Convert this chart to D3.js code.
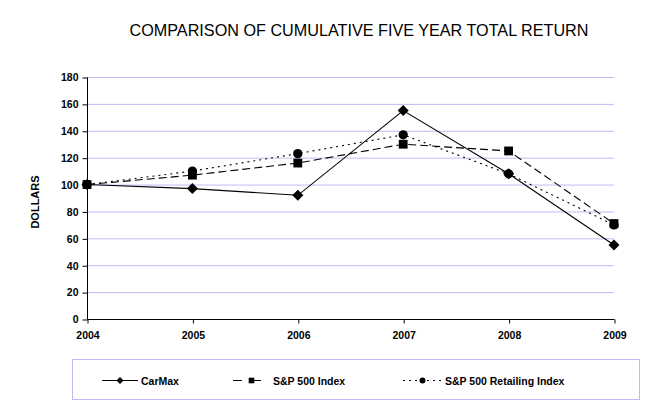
<!DOCTYPE html>
<html><head><meta charset="utf-8">
<script src="https://cdn.jsdelivr.net/npm/d3@7"></script>
<style>body{margin:0;background:#fff}svg{display:block}text{font-family:"Liberation Sans",Arial,sans-serif}</style>
</head><body>
<svg id="c" width="651" height="410"></svg>
<script>
const years = ["2004","2005","2006","2007","2008","2009"];
const carmax = [100, 97, 92, 155, 108, 55];
const sp500 = [100, 107, 116, 130, 125, 71];
const retailing = [100, 110, 123, 137, 108, 70];
const yTicks = [0,20,40,60,80,100,120,140,160,180];
const seriesNames = ["CarMax","S&P 500 Index","S&P 500 Retailing Index"];

const svg = d3.select("#c");
const x = d3.scalePoint().domain(years).range([87, 614]);
const y = d3.scaleLinear().domain([0,180]).range([319, 77]);

svg.append("text").attr("x",359).attr("y",36).attr("text-anchor","middle")
  .attr("font-size",16.2).text("COMPARISON OF CUMULATIVE FIVE YEAR TOTAL RETURN");

// gridlines
svg.append("g").selectAll("line").data(yTicks.filter(d=>d>0)).join("line")
  .attr("x1",87).attr("x2",614).attr("y1",d=>y(d)+0.5).attr("y2",d=>y(d)+0.5)
  .attr("stroke","#bcbcf4").attr("stroke-width",1);

// y axis
const ya = svg.append("g").attr("transform","translate(87.5,0.5)")
  .call(d3.axisLeft(y).tickValues(yTicks).tickSize(5).tickPadding(4));
ya.select(".domain").attr("d",`M0,${y(180)}V${y(0)}`);
ya.selectAll("text").attr("font-size",10.5).attr("font-weight","bold").attr("fill","#000").attr("font-family","Liberation Sans, Arial");

// x axis
const xa = svg.append("g").attr("transform",`translate(0.5,${y(0)+0.5})`)
  .call(d3.axisBottom(x).tickSize(4).tickPadding(8));
xa.select(".domain").attr("d",`M87,0H614`);
xa.selectAll("text").attr("font-size",10.5).attr("font-weight","bold").attr("fill","#000").attr("font-family","Liberation Sans, Arial");

svg.append("text").attr("transform","translate(39,202) rotate(-90)").attr("text-anchor","middle")
  .attr("font-size",11).attr("font-weight","bold").text("DOLLARS");

const series = [
  {name:seriesNames[0], vals:carmax, dash:null, marker:"diamond"},
  {name:seriesNames[1], vals:sp500, dash:"8,4", marker:"square"},
  {name:seriesNames[2], vals:retailing, dash:"2,4", marker:"circle"}
];
const line = d3.line().x((d,i)=>x(years[i])).y(d=>y(d));
function marker(g, type, cx, cy, s){
  if(type==="diamond") g.append("path").attr("d",`M${cx},${cy-s}L${cx+s},${cy}L${cx},${cy+s}L${cx-s},${cy}Z`).attr("fill","#000");
  else if(type==="square") g.append("rect").attr("x",cx-s*0.8).attr("y",cy-s*0.8).attr("width",s*1.6).attr("height",s*1.6).attr("fill","#000");
  else g.append("circle").attr("cx",cx).attr("cy",cy).attr("r",s*0.85).attr("fill","#000");
}
const plot = svg.append("g");
series.slice().reverse().forEach(s=>{
  plot.append("path").attr("d",line(s.vals)).attr("fill","none").attr("stroke","#000")
    .attr("stroke-width",1.1).attr("stroke-dasharray",s.dash);
});
series.slice().reverse().forEach(s=>{
  s.vals.forEach((v,i)=>marker(plot,s.marker,x(years[i]),y(v),5.5));
});

// legend
svg.append("rect").attr("x",72.5).attr("y",359.5).attr("width",567).attr("height",40)
  .attr("fill","none").attr("stroke","#bcbcf4");
const lx = [[102,138],[233,270],[403,442]];
series.forEach((s,i)=>{
  const g = svg.append("g");
  g.append("line").attr("x1",lx[i][0]).attr("x2",lx[i][1]).attr("y1",380.5).attr("y2",380.5)
    .attr("stroke","#000").attr("stroke-width",1.1).attr("stroke-dasharray",s.dash ? (i===1?"9,10":"2,4") : null);
  marker(g,s.marker,(lx[i][0]+lx[i][1])/2,380.5,3.5);
  g.append("text").attr("x",lx[i][1]+3).attr("y",384.5).attr("font-size",10.5).attr("font-weight","bold").text(s.name);
});
</script>
</body></html>
